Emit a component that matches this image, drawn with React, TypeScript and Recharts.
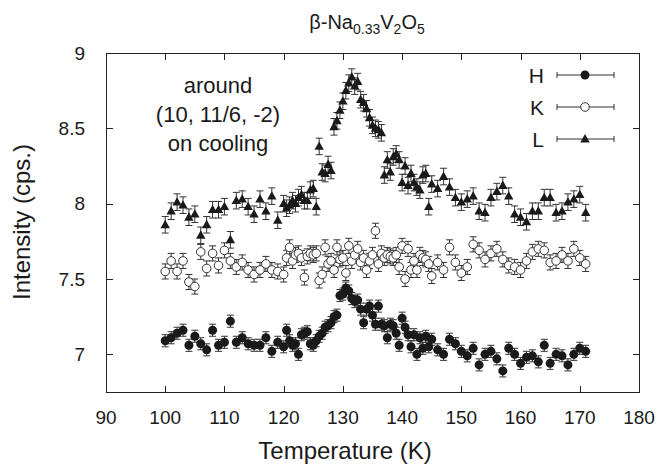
import { ErrorBar, Scatter, ScatterChart, XAxis, YAxis } from 'recharts';

// temperature grid (K): 1 K steps, 0.5 K steps around the transition
const TEMPS = [
  100, 101, 102, 103, 104, 105, 106, 107, 108, 109, 110, 111, 112, 113, 114, 115, 116, 117, 118, 119, 120,
  120.5, 121, 121.5, 122, 122.5, 123, 123.5, 124, 124.5, 125,
  125.5, 126, 126.5, 127, 127.5, 128, 128.5, 129, 129.5, 130,
  130.5, 131, 131.5, 132, 132.5, 133, 133.5, 134, 134.5, 135,
  135.5, 136, 136.5, 137, 137.5, 138, 138.5, 139, 139.5, 140,
  140.5, 141, 141.5, 142, 142.5, 143, 143.5, 144, 144.5, 145,
  146, 147, 148, 149, 150, 151, 152, 153, 154, 155, 156, 157, 158, 159, 160, 161, 162, 163, 164, 165,
  166, 167, 168, 169, 170, 171,
];

const H_VALUES = [
  7.09, 7.11, 7.14, 7.16, 7.06, 7.12, 7.07, 7.03, 7.16, 7.06, 7.08, 7.22, 7.08, 7.11, 7.07, 7.06, 7.06, 7.11, 7.02, 7.08, 7.05,
  7.16, 7.09, 7.06, 7.07, 7.0, 7.13, 7.14, 7.15, 7.07, 7.06,
  7.09, 7.12, 7.14, 7.18, 7.19, 7.21, 7.25, 7.26, 7.39, 7.4,
  7.44, 7.42, 7.37, 7.35, 7.36, 7.3, 7.21, 7.3, 7.32, 7.26,
  7.2, 7.32, 7.2, 7.19, 7.11, 7.2, 7.19, 7.14, 7.06, 7.24,
  7.18, 7.13, 7.05, 7.13, 7.0, 7.11, 7.04, 7.12, 7.05, 7.1,
  7.03, 7.0, 7.1, 7.07, 7.02, 6.99, 7.04, 6.93, 7.0, 7.02, 6.97, 6.89, 7.04, 7.0, 6.94, 6.98, 6.99, 6.95, 7.06, 6.94,
  7.0, 6.99, 6.93, 7.0, 7.04, 7.02,
];

const K_VALUES = [
  7.55, 7.62, 7.55, 7.62, 7.48, 7.45, 7.68, 7.57, 7.67, 7.59, 7.69, 7.62, 7.58, 7.61, 7.56, 7.53, 7.56, 7.6, 7.56, 7.55, 7.53,
  7.64, 7.71, 7.62, 7.66, 7.67, 7.64, 7.51, 7.65, 7.67, 7.66,
  7.67, 7.49, 7.53, 7.71, 7.6, 7.62, 7.56, 7.71, 7.63, 7.64,
  7.54, 7.72, 7.62, 7.66, 7.7, 7.61, 7.64, 7.56, 7.62, 7.66,
  7.82, 7.6, 7.67, 7.64, 7.66, 7.65, 7.64, 7.66, 7.58, 7.72,
  7.5, 7.7, 7.56, 7.62, 7.56, 7.66, 7.64, 7.63, 7.6, 7.52,
  7.61, 7.56, 7.71, 7.61, 7.54, 7.58, 7.73, 7.69, 7.63, 7.67, 7.7, 7.63, 7.59, 7.58, 7.56, 7.62, 7.68, 7.7, 7.69, 7.61,
  7.62, 7.66, 7.62, 7.7, 7.64, 7.6,
];

const L_VALUES = [
  7.86, 7.95, 8.01, 7.99, 7.91, 7.93, 7.79, 7.86, 7.96, 7.96, 7.98, 7.76, 8.02, 8.03, 7.98, 7.93, 8.03, 7.95, 8.05, 7.89, 8.0,
  7.97, 7.99, 8.02, 8.0, 8.04, 8.06, 8.02, 8.02, 8.09, 8.1,
  7.98, 8.38, 8.21, 8.2, 8.26, 8.22, 8.51, 8.55, 8.62, 8.68,
  8.75, 8.8, 8.84, 8.78, 8.81, 8.69, 8.67, 8.63, 8.57, 8.52,
  8.5, 8.49, 8.47, 8.19, 8.29, 8.21, 8.31, 8.33, 8.29, 8.14,
  8.25, 8.12, 8.2, 8.14, 8.11, 8.09, 8.19, 8.2, 7.98, 8.13,
  8.1, 8.18, 8.11, 8.04, 8.01, 8.03, 8.05, 7.95, 7.94, 8.04, 8.08, 8.12, 8.05, 7.93, 7.91, 7.88, 7.95, 7.95, 8.04, 8.04,
  7.94, 7.95, 8.01, 8.03, 8.06, 7.94,
];

// approximate half-length of the error bars, per series
const H_ERR = 0.04;
const K_ERR = 0.05;
const L_ERR = 0.055;

const X_DOMAIN = [90, 180];
const Y_DOMAIN = [6.75, 9];
const X_TICKS = [90, 100, 110, 120, 130, 140, 150, 160, 170, 180];
const Y_TICKS = [7, 7.5, 8, 8.5, 9];
const SERIES_NAMES = ['H', 'K', 'L'];

const INK = '#1a1a1a';
const LINE = '#333';
const FONT = '"Liberation Sans", Arial, Helvetica, sans-serif';

// plot box that the chart margins and axis sizes below produce
const W = 660;
const H = 467;
const MARGIN = { top: 53, right: 21, bottom: 25, left: 46 };
const Y_AXIS_W = 60;
const X_AXIS_H = 50;
const BOX = {
  left: MARGIN.left + Y_AXIS_W,
  right: W - MARGIN.right,
  top: MARGIN.top,
  bottom: H - MARGIN.bottom - X_AXIS_H,
};
const TICK = 6;

const toRows = (values: number[], err: number) =>
  TEMPS.map((t, i) => ({ t, v: values[i], err }));

function FilledCircle({ cx, cy }: any) {
  return <circle cx={cx} cy={cy} r={4.5} fill={INK} />;
}

function OpenCircle({ cx, cy }: any) {
  return <circle cx={cx} cy={cy} r={4.3} fill="#fff" stroke={LINE} strokeWidth={1} />;
}

function Triangle({ cx, cy }: any) {
  return (
    <polygon
      points={`${cx},${cy - 5} ${cx - 4.7},${cy + 3.4} ${cx + 4.7},${cy + 3.4}`}
      fill={INK}
    />
  );
}

const MARKERS: Record<string, (p: any) => any> = {
  H: FilledCircle,
  K: OpenCircle,
  L: Triangle,
};

const tickStyle = (left: number, top: number, width: number, height: number) => ({
  position: 'absolute' as const,
  left,
  top,
  width,
  height,
  background: '#222',
});

// frame with inward ticks on all four sides (gnuplot style), drawn as plain boxes
function Frame() {
  const px = (t: number) =>
    Math.round(BOX.left + ((t - X_DOMAIN[0]) / (X_DOMAIN[1] - X_DOMAIN[0])) * (BOX.right - BOX.left));
  const py = (v: number) =>
    Math.round(BOX.bottom - ((v - Y_DOMAIN[0]) / (Y_DOMAIN[1] - Y_DOMAIN[0])) * (BOX.bottom - BOX.top));
  return (
    <div style={{ position: 'absolute', left: 0, top: 0, width: W, height: H, zIndex: 10, pointerEvents: 'none' }}>
      <div
        style={{
          position: 'absolute',
          left: BOX.left,
          top: BOX.top,
          width: BOX.right - BOX.left + 1,
          height: BOX.bottom - BOX.top + 1,
          boxSizing: 'border-box',
          border: '1px solid #222',
        }}
      />
      {X_TICKS.slice(1, -1).map((t) => (
        <div key={`xb${t}`} style={tickStyle(px(t), BOX.bottom - TICK, 1, TICK)} />
      ))}
      {X_TICKS.slice(1, -1).map((t) => (
        <div key={`xt${t}`} style={tickStyle(px(t), BOX.top + 1, 1, TICK)} />
      ))}
      {Y_TICKS.slice(0, -1).map((v) => (
        <div key={`yl${v}`} style={tickStyle(BOX.left + 1, py(v), TICK, 1)} />
      ))}
      {Y_TICKS.slice(0, -1).map((v) => (
        <div key={`yr${v}`} style={tickStyle(BOX.right - TICK, py(v), TICK, 1)} />
      ))}
    </div>
  );
}

function LegendBox() {
  return (
    <svg width={110} height={100} style={{ display: 'block' }}>
      {SERIES_NAMES.map((name, i) => {
        const y = 17 + i * 32;
        const Marker = MARKERS[name];
        return (
          <g key={name}>
            <text
              x={24}
              y={y}
              textAnchor="end"
              dominantBaseline="central"
              fontSize={21}
              fill={INK}
              fontFamily={FONT}
            >
              {name}
            </text>
            <line x1={37} y1={y} x2={94} y2={y} stroke={LINE} strokeWidth={1} />
            <line x1={37} y1={y - 3} x2={37} y2={y + 3} stroke={LINE} strokeWidth={1} />
            <line x1={94} y1={y - 3} x2={94} y2={y + 3} stroke={LINE} strokeWidth={1} />
            <Marker cx={65} cy={y} />
          </g>
        );
      })}
    </svg>
  );
}

export default function App() {
  return (
    <div
      style={{
        position: 'absolute',
        left: 0,
        top: 0,
        width: W,
        height: H,
        background: '#fff',
        fontFamily: FONT,
        color: INK,
      }}
    >
      <ScatterChart width={W} height={H} margin={MARGIN}>
        <XAxis
          xAxisId="x"
          type="number"
          dataKey="t"
          domain={X_DOMAIN}
          ticks={X_TICKS}
          height={X_AXIS_H}
          axisLine={false}
          tickLine={false}
          tickMargin={13}
          tick={{ fill: INK, fontSize: 19, fontFamily: FONT }}
        />
        <YAxis
          yAxisId="y"
          type="number"
          dataKey="v"
          domain={Y_DOMAIN}
          ticks={Y_TICKS}
          width={Y_AXIS_W}
          axisLine={false}
          tickLine={false}
          tickMargin={15}
          tick={{ fill: INK, fontSize: 19, fontFamily: FONT }}
        />
        <Scatter
          name="L"
          data={toRows(L_VALUES, L_ERR)}
          xAxisId="x"
          yAxisId="y"
          shape={Triangle}
          isAnimationActive={false}
        >
          <ErrorBar dataKey="err" direction="y" width={3.5} stroke={LINE} strokeWidth={1} />
        </Scatter>
        <Scatter
          name="K"
          data={toRows(K_VALUES, K_ERR)}
          xAxisId="x"
          yAxisId="y"
          shape={OpenCircle}
          isAnimationActive={false}
        >
          <ErrorBar dataKey="err" direction="y" width={3.5} stroke={LINE} strokeWidth={1} />
        </Scatter>
        <Scatter
          name="H"
          data={toRows(H_VALUES, H_ERR)}
          xAxisId="x"
          yAxisId="y"
          shape={FilledCircle}
          isAnimationActive={false}
        >
          <ErrorBar dataKey="err" direction="y" width={3.5} stroke={LINE} strokeWidth={1} />
        </Scatter>
      </ScatterChart>

      {/* legend */}
      <div style={{ position: 'absolute', left: 520, top: 58 }}>
        <LegendBox />
      </div>

      {/* title */}
      <div
        style={{
          position: 'absolute',
          left: 217,
          top: 8,
          width: 300,
          textAlign: 'center',
          fontSize: 20,
          lineHeight: '28px',
        }}
      >
        β-Na<sub style={{ fontSize: 14 }}>0.33</sub>V<sub style={{ fontSize: 14 }}>2</sub>O
        <sub style={{ fontSize: 14 }}>5</sub>
      </div>

      {/* annotation */}
      <div
        style={{
          position: 'absolute',
          left: 118,
          top: 71,
          width: 200,
          textAlign: 'center',
          fontSize: 22,
          lineHeight: '29px',
        }}
      >
        around
        <br />
        (10, 11/6, -2)
        <br />
        on cooling
      </div>

      {/* axis titles */}
      <div
        style={{
          position: 'absolute',
          left: 195,
          top: 436,
          width: 300,
          textAlign: 'center',
          fontSize: 24,
          lineHeight: '30px',
        }}
      >
        Temperature (K)
      </div>
      <div
        style={{
          position: 'absolute',
          left: 22 - 150,
          top: 222 - 15,
          width: 300,
          height: 30,
          textAlign: 'center',
          fontSize: 24,
          lineHeight: '30px',
          transform: 'rotate(-90deg)',
        }}
      >
        Intensity (cps.)
      </div>

      <Frame />
    </div>
  );
}
